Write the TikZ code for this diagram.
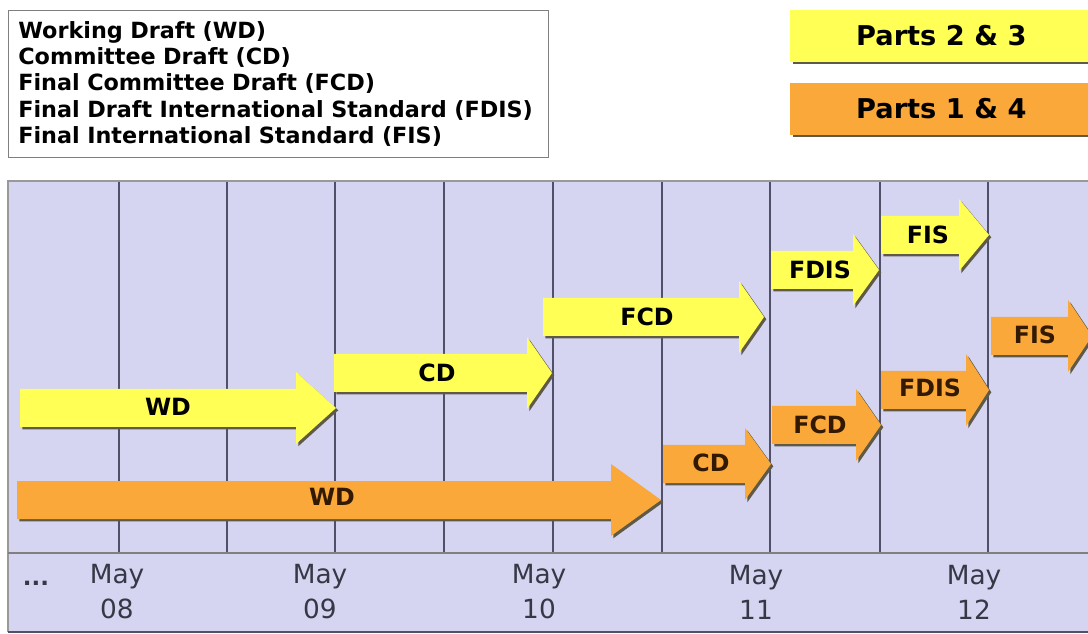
\documentclass[tikz,border=0pt]{standalone}
\usepackage{fontspec}
\setmainfont{DejaVu Sans}
\usetikzlibrary{positioning,shadows}

\definecolor{lemon}{RGB}{255,255,85}
\definecolor{tangerine}{RGB}{250,168,58}
\definecolor{lavender}{RGB}{213,213,242}
\definecolor{gridc}{RGB}{80,80,105}
\definecolor{shadowc}{RGB}{95,90,70}
\definecolor{datec}{RGB}{55,55,70}
\definecolor{brownc}{RGB}{50,25,0}

\begin{document}
\begin{tikzpicture}[x=0.02cm,y=-0.02cm]

\tikzset{
  stage/.style args={#1 to #2 at #3 head #4}{
    insert path={
      (#1,#3-19) -- (#2-#4,#3-19) -- (#2-#4,#3-36) -- (#2,#3)
      -- (#2-#4,#3+36) -- (#2-#4,#3+19) -- (#1,#3+19) -- cycle
    }
  },
  blockfill/.style={fill=#1, drop shadow={shadow xshift=1.3pt,
      shadow yshift=-1.3pt, fill=shadowc, opacity=1}},
  lbl/.style={font=\bfseries\fontsize{13.5}{16}\selectfont, inner sep=0pt},
  olbl/.style={lbl, text=brownc},
  partbox/.style={rectangle, minimum width=6.04cm, minimum height=1.04cm,
      anchor=west, font=\bfseries\fontsize{15.5}{18}\selectfont},
  datelbl/.style={align=center, text=datec, inner sep=0pt,
      font=\fontsize{15}{20}\selectfont},
}

\useasboundingbox (0,0) rectangle (1088,634);

% legend
\node [draw=gray, rectangle, anchor=north west, minimum height=2.94cm,
  text width=10.4cm, inner xsep=0.2cm, align=left,
  font=\bfseries\fontsize{12.7}{14.9}\selectfont]
  (legend) at (8,10) {Working Draft (WD)\\
  Committee Draft (CD)\\
  Final Committee Draft (FCD)\\
  Final Draft International Standard (FDIS)\\
  Final International Standard (FIS)};

\node [partbox, blockfill=lemon] (p23) at (790,36) {Parts 2 \& 3};
\node [partbox, blockfill=tangerine, below=0.4cm of p23] (p14) {Parts 1 \& 4};

% time grid
\fill [lavender] (8,181) rectangle (1088,632);
\foreach \gx in {119,227,335,444,553,662,770,880,988}
  \draw [gridc, line width=0.8pt] (\gx,181) -- (\gx,553);
\draw [gray!80, line width=0.6pt] (8,632) -- (8,181) -- (1088,181);
\draw [gray, line width=1pt] (8,553) -- (1088,553);
\draw [gridc, line width=1pt] (8,632) -- (1088,632);

% parts 2 & 3
\path [blockfill=lemon, stage={20 to 336 at 408 head 40}];
\path [blockfill=lemon, stage={334 to 552 at 373 head 25}];
\path [blockfill=lemon, stage={543 to 764 at 317 head 25}];
\path [blockfill=lemon, stage={771 to 879 at 270 head 26}];
\path [blockfill=lemon, stage={881 to 989 at 235 head 30}];

% parts 1 & 4
\path [blockfill=tangerine, stage={17 to 661 at 500 head 50}];
\path [blockfill=tangerine, stage={663 to 771 at 464 head 26}];
\path [blockfill=tangerine, stage={772 to 881 at 425 head 25}];
\path [blockfill=tangerine, stage={881 to 989 at 390 head 23}];
\path [blockfill=tangerine, stage={991 to 1092 at 336 head 24}];

\node [lbl] (ywd) at (168,407) {WD};
\node [lbl] (ycd) at (437,373) {CD};
\node [lbl] (yfcd) at (647,317) {FCD};
\node [lbl] (yfdis) at (820,270) {FDIS};
\node [lbl] (yfis) at (928,235) {FIS};

\node [olbl] (owd) at (332,497) {WD};
\node [olbl] (ocd) at (711,463) {CD};
\node [olbl] (ofcd) at (820,425) {FCD};
\node [olbl] (ofdis) at (930,388) {FDIS};
\node [olbl] (ofis) at (1035,335) {FIS};

% dates
\node [datelbl, font=\bfseries\fontsize{13}{15}\selectfont] (more) at (36,583) {...};
\node [datelbl] (may08) at (117,592) {May\\08};
\node [datelbl] (may09) at (320,592) {May\\09};
\node [datelbl] (may10) at (539,592) {May\\10};
\node [datelbl] (may11) at (756,592) {May\\11};
\node [datelbl] (may12) at (974,592) {May\\12};

\end{tikzpicture}
\end{document}
